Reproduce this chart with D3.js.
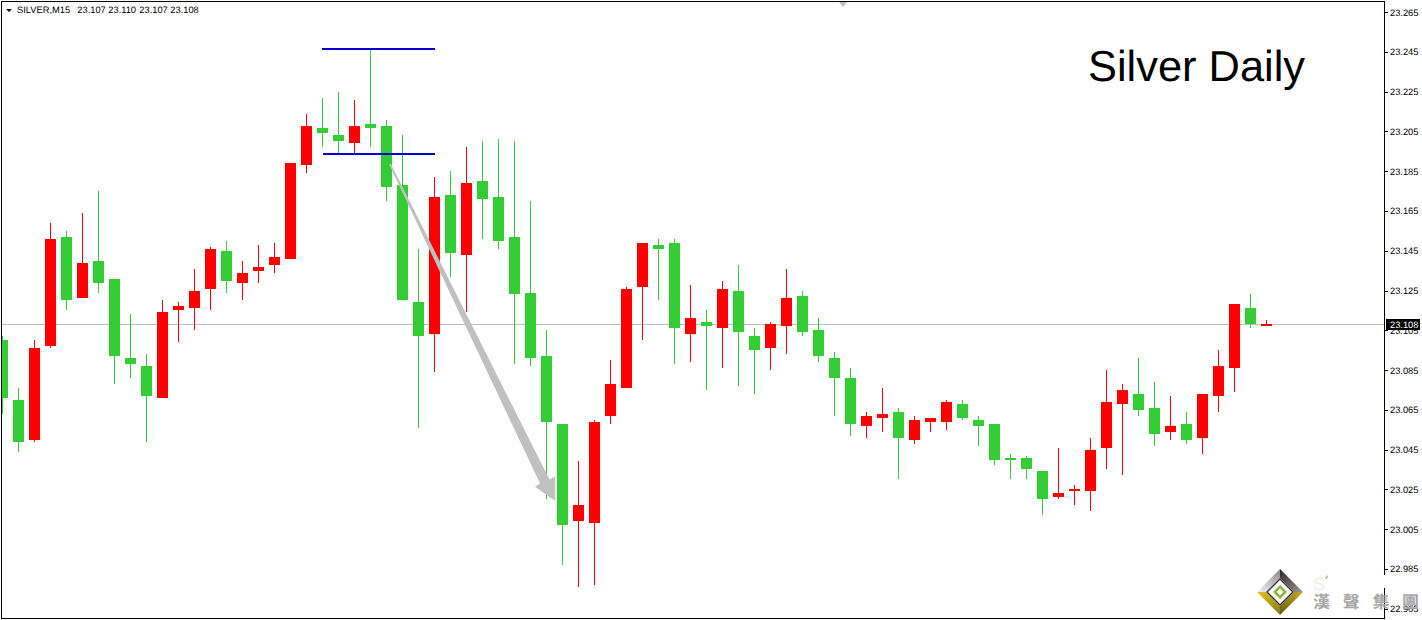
<!DOCTYPE html>
<html><head><meta charset="utf-8">
<script src="https://cdn.jsdelivr.net/npm/d3@7"></script>
<style>
html,body{margin:0;padding:0;background:#fff;overflow:hidden}
svg{display:block}
text{font-family:"Liberation Sans",Arial,sans-serif;text-rendering:geometricPrecision}
</style></head><body><svg id="c" width="1422" height="620"></svg>
<script>
const symbol = "SILVER,M15";
const headerQuote = ["23.107","23.110","23.107","23.108"];
const title = "Silver Daily";
const tickValues = [23.265,23.245,23.225,23.205,23.185,23.165,23.145,23.125,23.105,23.085,23.065,23.045,23.025,23.005,22.985,22.965];
const lastPrice = 23.108;
const open = [23.100,23.070,23.050,23.097,23.152,23.121,23.140,23.131,23.091,23.087,23.071,23.115,23.116,23.126,23.145,23.129,23.135,23.138,23.141,23.188,23.207,23.203,23.199,23.209,23.208,23.178,23.119,23.103,23.173,23.143,23.180,23.172,23.152,23.124,23.092,23.058,23.009,23.008,23.062,23.076,23.127,23.148,23.149,23.103,23.109,23.106,23.125,23.102,23.096,23.107,23.122,23.105,23.091,23.081,23.057,23.061,23.064,23.050,23.059,23.059,23.068,23.060,23.058,23.041,23.041,23.034,23.021,23.024,23.024,23.046,23.068,23.073,23.066,23.054,23.058,23.051,23.072,23.086,23.116,23.107];
const high = [23.102,23.076,23.100,23.159,23.155,23.164,23.175,23.131,23.113,23.093,23.120,23.119,23.136,23.147,23.150,23.140,23.148,23.149,23.189,23.214,23.222,23.225,23.221,23.247,23.211,23.203,23.146,23.182,23.185,23.197,23.200,23.201,23.200,23.170,23.105,23.058,23.039,23.060,23.090,23.127,23.149,23.151,23.151,23.128,23.115,23.130,23.138,23.106,23.109,23.136,23.125,23.111,23.094,23.086,23.064,23.076,23.066,23.062,23.061,23.070,23.070,23.062,23.058,23.043,23.042,23.034,23.046,23.027,23.051,23.085,23.078,23.091,23.079,23.072,23.064,23.073,23.095,23.118,23.123,23.110];
const low = [23.063,23.044,23.049,23.096,23.115,23.121,23.124,23.078,23.081,23.049,23.071,23.099,23.105,23.115,23.124,23.120,23.129,23.134,23.141,23.184,23.197,23.193,23.194,23.197,23.170,23.120,23.056,23.084,23.132,23.114,23.151,23.146,23.088,23.087,23.020,22.987,22.976,22.977,23.058,23.076,23.100,23.120,23.088,23.089,23.075,23.086,23.077,23.073,23.085,23.093,23.102,23.089,23.062,23.052,23.051,23.054,23.030,23.048,23.054,23.055,23.060,23.047,23.037,23.030,23.030,23.012,23.020,23.017,23.014,23.035,23.032,23.062,23.047,23.050,23.048,23.043,23.064,23.074,23.106,23.107];
const close = [23.071,23.049,23.096,23.151,23.120,23.139,23.129,23.092,23.088,23.072,23.114,23.117,23.125,23.146,23.130,23.134,23.137,23.142,23.189,23.208,23.204,23.200,23.208,23.207,23.177,23.120,23.102,23.172,23.144,23.179,23.171,23.150,23.123,23.091,23.059,23.007,23.017,23.059,23.078,23.126,23.149,23.146,23.106,23.111,23.107,23.126,23.104,23.095,23.108,23.121,23.104,23.092,23.081,23.058,23.062,23.063,23.051,23.060,23.061,23.069,23.061,23.057,23.040,23.040,23.035,23.020,23.023,23.025,23.045,23.069,23.075,23.065,23.053,23.057,23.050,23.073,23.087,23.118,23.108,23.108];
const levelPrices = [23.2465,23.1936];
const levelBars = [[20,27.06],[20.06,27.06]];
const arrowBars = [24.19,33.625,33.31,34.56,34.56,34.22,24.31];
const arrowPrices = [23.1886,23.0279,23.0263,23.0193,23.0314,23.0299,23.1886];
const logoText = ["漢","聲","集","團"];

const UP="#ff0000", DOWN="#32cd32", GRID="#c0c0c0", BLUE="#0000cd";
const svg=d3.select("#c");
const x=d3.scaleLinear().domain([0,79]).range([2,1266]);
const y=d3.scaleLinear().domain([22.965,23.265]).range([608.6,12.2]);
const px=v=>Math.round(x(v)), py=v=>Math.round(y(v));

svg.append("clipPath").attr("id","plot").append("rect").attr("x",2).attr("y",2).attr("width",1382).attr("height",616);
const plot=svg.append("g").attr("clip-path","url(#plot)").attr("shape-rendering","crispEdges");

// current price line
plot.append("line").attr("x1",0).attr("x2",1384).attr("y1",py(lastPrice)+.5).attr("y2",py(lastPrice)+.5).attr("stroke",GRID);

const idx=d3.range(open.length);
const col=i=>close[i]>=open[i]?UP:DOWN;
plot.selectAll("rect.w").data(idx).join("rect").attr("class","w")
  .attr("x",i=>px(i)).attr("width",1).attr("y",i=>py(high[i])).attr("height",i=>py(low[i])-py(high[i])).attr("fill",col);

// bars the arrow passes over are painted beneath it
plot.selectAll("rect.b2").data([24,25,27]).join("rect").attr("class","b2")
  .attr("x",i=>px(i)-5).attr("width",11)
  .attr("y",i=>py(Math.max(open[i],close[i]))).attr("height",i=>py(Math.min(open[i],close[i]))-py(Math.max(open[i],close[i]))).attr("fill",col);

// arrow
svg.append("polygon").attr("clip-path","url(#plot)")
  .attr("points",arrowBars.map((b,i)=>[x(b),y(arrowPrices[i])].join(",")).join(" ")).attr("fill",GRID);

const bodies=svg.append("g").attr("clip-path","url(#plot)").attr("shape-rendering","crispEdges");
const bodyIdx=idx.filter(i=>i!==25&&i!==27&&i!==24);
bodies.selectAll("rect.b").data(bodyIdx).join("rect").attr("class","b")
  .attr("x",i=>px(i)-5).attr("width",11)
  .attr("y",i=>py(Math.max(open[i],close[i]))).attr("height",i=>Math.max(2,py(Math.min(open[i],close[i]))-py(Math.max(open[i],close[i])))).attr("fill",col);

// horizontal levels
svg.append("g").attr("shape-rendering","crispEdges").selectAll("rect").data(levelPrices).join("rect")
  .attr("x",(d,i)=>px(levelBars[i][0])).attr("width",(d,i)=>px(levelBars[i][1])-px(levelBars[i][0]))
  .attr("y",d=>py(d)-1).attr("height",2).attr("fill",BLUE);

// chart-shift marker
svg.append("polygon").attr("points","839,2 847,2 843,7").attr("fill",GRID);

// frame
svg.append("rect").attr("x",1.5).attr("y",1.5).attr("width",1383).attr("height",617).attr("fill","none").attr("stroke","#000").attr("shape-rendering","crispEdges");

// price axis
const axis=d3.axisRight(y).tickValues(tickValues).tickFormat(d3.format(".3f")).tickSize(3).tickPadding(2);
const ag=svg.append("g").attr("transform","translate(1385,0)").call(axis);
ag.select(".domain").remove();
ag.selectAll("line").attr("stroke","#000").attr("shape-rendering","crispEdges");
ag.selectAll("text").attr("fill","#000").attr("font-size","9.3px").attr("font-family",'"Liberation Sans",Arial,sans-serif');

// last price tag
svg.append("rect").attr("x",1386).attr("y",py(lastPrice)-5).attr("width",34).attr("height",11).attr("fill","#000").attr("shape-rendering","crispEdges");
svg.append("text").attr("x",1390).attr("y",py(lastPrice)+4).attr("fill","#fff").attr("font-size","9.3px").text(d3.format(".3f")(lastPrice));

// header
svg.append("polygon").attr("points","6,9 12,9 9,12").attr("fill","#000");
svg.append("text").attr("x",17).attr("y",13).attr("font-size","9.3px").attr("fill","#000").text(symbol);
svg.selectAll("text.q").data(headerQuote).join("text").attr("class","q")
  .attr("x",(d,i)=>77.3+31*i).attr("y",13).attr("font-size","9.3px").attr("fill","#000").text(d=>d);

// title
svg.append("text").attr("x",1088).attr("y",80.5).attr("font-size","43.4px").attr("fill","#000").text(title);

// logo
const defs=svg.append("defs");
function grad(id,a,b,x1,y1,x2,y2){const g=defs.append("linearGradient").attr("id",id).attr("x1",x1).attr("y1",y1).attr("x2",x2).attr("y2",y2);
  g.append("stop").attr("offset",0).attr("stop-color",a);g.append("stop").attr("offset",1).attr("stop-color",b);}
grad("g1","#f4f4f4","#8a8a8a",0,1,1,0);
grad("g2","#2a2622","#a09a92",0,0,1,1);
grad("g3","#e3c426","#8a7a10",0,0,1,1);
grad("g4","#6a5a10","#c9ab1c",0,1,1,0);
svg.append("rect").attr("x",1376).attr("y",575).attr("width",16).attr("height",13).attr("fill","#fff");
const L=svg.append("g").attr("transform","translate(1280,592)");
const dia=(r,f)=>L.append("polygon").attr("points",`${-r},0 0,${-r} ${r},0 0,${r}`).attr("fill",f);
L.append("polygon").attr("points","-23,0 0,-23 0,-14 -14,0").attr("fill","url(#g1)");
L.append("polygon").attr("points","23,0 0,-23 0,-14 14,0").attr("fill","url(#g2)");
L.append("polygon").attr("points","-23,0 0,23 0,14 -14,0").attr("fill","url(#g3)");
L.append("polygon").attr("points","23,0 0,23 0,14 14,0").attr("fill","url(#g4)");
dia(14,"#3a3630");dia(12,"#fff");dia(7,"#8cb43c");dia(3.5,"#fff");
svg.append("text").attr("x",1313).attr("y",590).attr("font-size","18px").attr("fill","#eeeee4").text("S");
svg.append("polygon").attr("points","1325,578 1328,575 1327,579").attr("fill","#8cb43c");
svg.selectAll("text.l").data(logoText).join("text").attr("class","l")
  .attr("x",(d,i)=>1321.5+29.7*i).attr("y",608).attr("text-anchor","middle")
  .attr("font-size","17px").attr("font-weight",700).attr("fill","#a8a8a8")
  .style("font-family",'"Noto Sans CJK TC",sans-serif').text(d=>d);
</script></body></html>
